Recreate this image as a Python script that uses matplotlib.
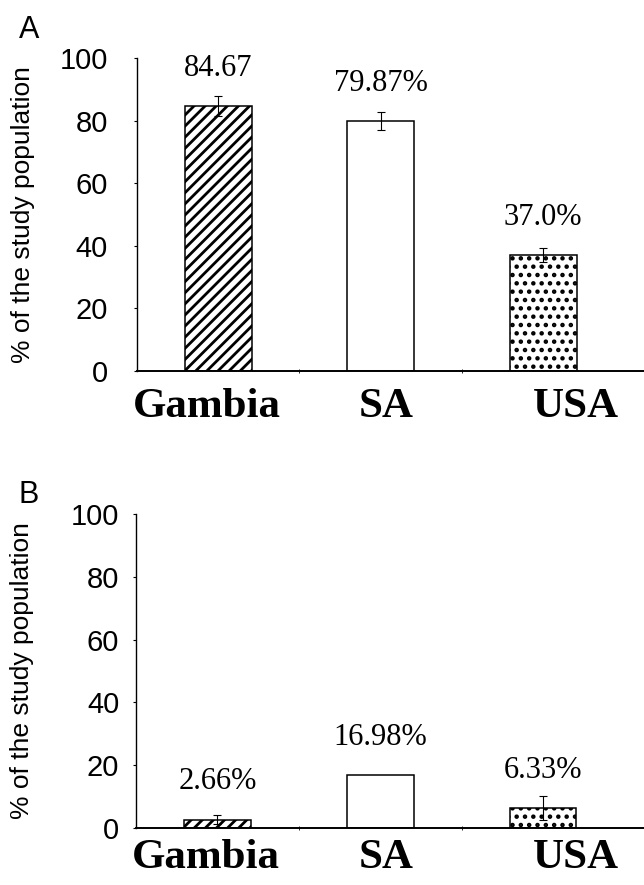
import numpy as np
import matplotlib.pyplot as plt

countries = ['Gambia', 'SA', 'USA']

# panel A
values_a = [84.67, 79.87, 37.0]
errors_a = [3.2, 2.9, 2.2]
labels_a = ['84.67', '79.87%', '37.0%']

# panel B
values_b = [2.66, 16.98, 6.33]
errors_b = [1.5, 0.0, 3.8]
labels_b = ['2.66%', '16.98%', '6.33%']

hatches = ['///', '', '..']
name_shift = [-0.07, 0.035, 0.2]


def draw_panel(ax, values, errors, labels, letter, tick_pad, letter_y, name_y):
    x = np.arange(len(countries))
    for i in range(len(countries)):
        with plt.rc_context({'hatch.linewidth': 2.0}):
            ax.bar(x[i], values[i], width=0.41, color='white', edgecolor='black',
                   linewidth=1.1, hatch=hatches[i], zorder=2)
        if errors[i] > 0:
            ax.errorbar(x[i], values[i], yerr=errors[i], fmt='none',
                        ecolor='black', elinewidth=0.8, capsize=3, capthick=0.8,
                        zorder=3)
        ax.text(x[i], values[i] + 12, labels[i], ha='center', va='center',
                family='Liberation Serif', fontsize=22)
        ax.text(x[i] + name_shift[i], name_y, countries[i],
                transform=ax.get_xaxis_transform(), ha='center', va='center',
                family='Liberation Serif', fontweight='bold', fontsize=31)

    ax.set_xlim(-0.5, 2.62)
    ax.set_ylim(0, 100)
    ax.set_yticks([0, 20, 40, 60, 80, 100])
    ax.set_xticks([])
    ax.set_xticks([0.5, 1.5], minor=True)
    ax.tick_params(axis='x', which='minor', length=3, direction='inout')
    ax.tick_params(axis='y', length=2, direction='out', pad=tick_pad,
                   labelsize=21)
    for lab in ax.get_yticklabels():
        lab.set_family('Liberation Sans')
    ax.spines['top'].set_visible(False)
    ax.spines['right'].set_visible(False)
    ax.spines['left'].set_linewidth(1.0)
    ax.spines['bottom'].set_linewidth(1.4)
    ax.text(-0.224, 0.5, '% of the study population', transform=ax.transAxes,
            family='Liberation Sans', fontsize=19, rotation=90,
            ha='center', va='center')
    ax.text(-0.232, letter_y, letter, transform=ax.transAxes,
            family='Liberation Sans', fontsize=22, ha='left', va='center')


fig = plt.figure(figsize=(6.44, 8.85), dpi=100)
ax_a = fig.add_axes([0.2127, 0.5808, 0.7873, 0.3531])
ax_b = fig.add_axes([0.2112, 0.0644, 0.7888, 0.3548])

draw_panel(ax_a, values_a, errors_a, labels_a, 'A', 19, 1.09, -0.115)
draw_panel(ax_b, values_b, errors_b, labels_b, 'B', 10, 1.06, -0.095)

fig.savefig('out.png', dpi=100)
